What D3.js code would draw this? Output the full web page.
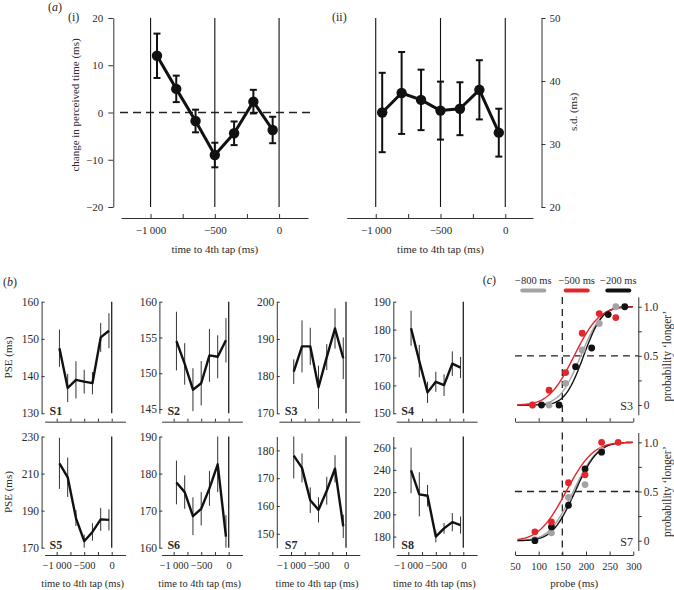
<!DOCTYPE html>
<html><head><meta charset="utf-8">
<script src="https://cdn.jsdelivr.net/npm/d3@7/dist/d3.min.js"></script>
<style>
body{margin:0;background:#fff;}
svg{display:block;}
</style></head><body>
<svg id="fig" width="674" height="590"></svg>
<script>
// ================= DATA =================
// panel (a)
const tapTimes = [-950, -800, -650, -500, -350, -200, -50];
const timeTicks = [-1000, -750, -500, -250, 0];
const timeTickLabels = {"-1000": "\u22121\u2009000", "-500": "\u2212500", "0": "0"};
const shiftMean = [12.0, 5.0, -1.8, -9.0, -4.4, 2.3, -3.7];
const shiftErr  = [4.7, 2.8, 2.4, 2.6, 2.5, 2.5, 2.8];
const shiftTicks = [-20, -10, 0, 10, 20];
const sdMean = [35.0, 38.1, 37.0, 35.3, 35.6, 38.6, 31.8];
const sdErr  = [6.3, 6.5, 4.8, 4.6, 4.2, 4.7, 3.8];
const sdTicks = [20, 30, 40, 50];

// panel (b)
const subjects = ["S1", "S2", "S3", "S4", "S5", "S6", "S7", "S8"];
const pseS1 = [147.5, 136.8, 139.0, 138.5, 138.1, 150.4, 152.2];
const errS1 = [5.0, 3.8, 5.0, 3.2, 3.0, 3.9, 4.7];
const pseS2 = [154.5, 151.3, 147.7, 148.6, 152.5, 152.3, 154.6];
const errS2 = [4.1, 2.9, 3.0, 3.1, 3.7, 3.0, 3.1];
const pseS3 = [181.2, 188.0, 188.0, 177.0, 185.1, 192.8, 184.8];
const errS3 = [3.3, 7.0, 5.0, 5.8, 3.5, 5.4, 5.6];
const pseS4 = [180.5, 168.7, 157.5, 161.3, 160.1, 167.8, 166.4];
const errS4 = [6.3, 5.8, 3.8, 3.6, 3.9, 4.4, 3.8];
const pseS5 = [215.5, 208.0, 186.0, 173.5, 178.5, 185.3, 185.0];
const errS5 = [13.8, 10.6, 4.3, 3.6, 4.7, 6.2, 5.7];
const pseS6 = [177.6, 175.0, 168.5, 170.5, 176.0, 182.5, 163.0];
const errS6 = [5.9, 4.5, 5.1, 4.5, 4.7, 7.5, 5.8];
const pseS7 = [178.1, 173.7, 162.1, 158.6, 165.5, 173.4, 152.7];
const errS7 = [8.2, 5.2, 4.6, 4.5, 5.0, 4.9, 4.2];
const pseS8 = [239.5, 218.0, 216.7, 180.0, 187.4, 193.0, 190.4];
const errS8 = [20.5, 19.8, 9.7, 5.2, 4.8, 8.2, 7.7];
const pseDomains = [[130, 160], [144.4, 160], [170, 200], [150, 190], [170, 230], [160, 190], [145, 185], [170, 270]];
const pseTicks = [[130, 140, 150, 160], [145, 150, 155, 160], [170, 180, 190, 200], [150, 160, 170, 180, 190],
                  [170, 190, 210, 230], [160, 170, 180, 190], [150, 160, 170, 180], [180, 200, 220, 240, 260]];

// panel (c)
const conditions = ["\u2212800 ms", "\u2212500 ms", "\u2212200 ms"];
const probeTicks = [50, 100, 150, 200, 250, 300];
const probTicks = [0, 0.25, 0.5, 0.75, 1];
const probTickLabels = {"0": "0", "0.5": "0.5", "1": "1.0"};
// S3
const s3ProbeGray  = [87, 122, 157, 192, 228, 263];
const s3PGray      = [0, 0, 0.22, 0.56, 0.83, 1.0];
const s3ProbeRed   = [87, 122, 157, 192, 228, 263];
const s3PRed       = [0, 0.15, 0.33, 0.73, 0.93, 0.89];
const s3ProbeBlack = [106, 143, 178, 212, 247, 282];
const s3PBlack     = [0, 0, 0.39, 0.58, 0.92, 1.0];
const s3FitMu    = [189, 175, 195];   // gray, red, black
const s3FitSigma = [35, 42, 31];
// S7
const s7ProbeGray  = [92, 127, 163, 198, 233];
const s7PGray      = [0.01, 0.08, 0.44, 0.57, 0.92];
const s7ProbeRed   = [92, 127, 163, 198, 233, 268];
const s7PRed       = [0.09, 0.19, 0.59, 0.67, 1.0, 1.0];
const s7ProbeBlack = [92, 127, 163, 198, 233];
const s7PBlack     = [0, 0.14, 0.36, 0.73, 0.90];
const s7FitMu    = [173, 158, 177];
const s7FitSigma = [40, 45, 38];

// ================= STYLE =================
const SERIF = "'Liberation Serif','Times New Roman',Times,serif";
const AX = "#333";
const TXT = "#2a2a2a";
const INK = "#111";
const condColors = ["#a3a3a3", "#e3262b", "#111111"];

const svg = d3.select("#fig");
const minus = v => v < 0 ? "\u2212" + Math.abs(v) : String(v);

function styleAxis(g, fs) {
  g.attr("font-family", SERIF).attr("font-size", fs);
  g.select(".domain").attr("stroke", AX).attr("stroke-width", 1);
  g.selectAll(".tick line").attr("stroke", AX).attr("stroke-width", 1);
  g.selectAll(".tick text").attr("fill", TXT);
}
function text(x, y, str, fs, opts = {}) {
  const t = svg.append("text").attr("x", x).attr("y", y)
    .attr("font-family", SERIF).attr("font-size", fs).attr("fill", TXT)
    .attr("text-anchor", opts.anchor || "start");
  if (opts.weight) t.attr("font-weight", opts.weight);
  if (opts.rotate) t.attr("transform", `rotate(${opts.rotate},${x},${y})`);
  t.text(str);
  return t;
}
function panelLetter(x, y, letter) {
  const t = svg.append("text").attr("x", x).attr("y", y)
    .attr("font-family", SERIF).attr("font-size", 12).attr("fill", TXT);
  t.append("tspan").text("(");
  t.append("tspan").attr("font-style", "italic").text(letter);
  t.append("tspan").text(")");
}

// ================= PANEL (a) =================
function panelA(opts) {
  const {x, y, mean, err, yTicks, axisX, side, dashed} = opts;
  const g = svg.append("g");
  [-1000, -500, 0].forEach(v => {
    g.append("line").attr("x1", x(v)).attr("x2", x(v))
      .attr("y1", y.range()[1]).attr("y2", y.range()[0])
      .attr("stroke", INK).attr("stroke-width", 1.1);
  });
  if (dashed) {
    g.append("line").attr("x1", 120).attr("x2", 310).attr("y1", y(0)).attr("y2", y(0))
      .attr("stroke", "#222").attr("stroke-width", 1.3).attr("stroke-dasharray", "8,5");
  }
  const gx = g.append("g").attr("transform", "translate(0,218)")
    .call(d3.axisBottom(x).tickValues(timeTicks).tickSizeInner(-4).tickSizeOuter(0)
      .tickPadding(8).tickFormat(d => timeTickLabels[d] || ""));
  styleAxis(gx, 11);
  const axis = side === "left" ? d3.axisLeft(y).tickPadding(5).tickSizeInner(5)
                               : d3.axisRight(y).tickPadding(4).tickSizeInner(4);
  const gy = g.append("g").attr("transform", `translate(${axisX},0)`)
    .call(axis.tickValues(yTicks).tickSizeOuter(0).tickFormat(minus));
  styleAxis(gy, 11);
  const pts = tapTimes.map((t, i) => ({t, m: mean[i], e: err[i]}));
  g.append("path").datum(pts)
    .attr("d", d3.line().x(d => x(d.t)).y(d => y(d.m)))
    .attr("fill", "none").attr("stroke", INK).attr("stroke-width", 3).attr("stroke-linejoin", "round");
  const eb = g.append("g").attr("stroke", INK).attr("stroke-width", 2);
  pts.forEach(d => {
    const cx = x(d.t);
    eb.append("line").attr("x1", cx).attr("x2", cx).attr("y1", y(d.m - d.e)).attr("y2", y(d.m + d.e));
    [d.m - d.e, d.m + d.e].forEach(v => eb.append("line")
      .attr("x1", cx - 3.5).attr("x2", cx + 3.5).attr("y1", y(v)).attr("y2", y(v)));
  });
  g.selectAll(null).data(pts).enter().append("circle")
    .attr("cx", d => x(d.t)).attr("cy", d => y(d.m)).attr("r", 5.2).attr("fill", INK);
  text(x(-500), 253, "time to 4th tap (ms)", 11, {anchor: "middle"});
}

const aX1 = d3.scaleLinear().domain([-1230, 225]).range([121, 308]);
const aY1 = d3.scaleLinear().domain([-20, 20]).range([207, 18]);
panelA({x: aX1, y: aY1, mean: shiftMean, err: shiftErr, yTicks: shiftTicks, axisX: 113.3, side: "left", dashed: true});
text(79, 105, "change in perceived time (ms)", 11, {anchor: "middle", rotate: -90});

const aX2 = d3.scaleLinear().domain([-1224, 214]).range([346.7, 533]);
const aY2 = d3.scaleLinear().domain([20, 50]).range([207, 18]);
panelA({x: aX2, y: aY2, mean: sdMean, err: sdErr, yTicks: sdTicks, axisX: 541.5, side: "right", dashed: false});
text(577, 112, "s.d. (ms)", 11, {anchor: "middle", rotate: -90});

panelLetter(48, 10.5, "a");
text(68, 21, "(i)", 12);
text(332, 21, "(ii)", 12);

// ================= PANEL (b) =================
const pseSeries = [pseS1, pseS2, pseS3, pseS4, pseS5, pseS6, pseS7, pseS8];
const errSeries = [errS1, errS2, errS3, errS4, errS5, errS6, errS7, errS8];
const bZeroX = [111.7, 228.7, 346, 463.3];
const bAxisX = [41.6, 159.4, 276.8, 393.3];
const bTop = [301.7, 436.5], bBottom = [413.3, 547.7], bXAxisY = [421.7, 555];

subjects.forEach((s, i) => {
  const col = i % 4, row = Math.floor(i / 4);
  const zx = bZeroX[col];
  const x = d3.scaleLinear().domain([-1220, 250]).range([zx - 67.1, zx + 13.75]);
  const dom = pseDomains[i];
  const y = d3.scaleLinear().domain(dom).range([bBottom[row], bTop[row]]);
  const g = svg.append("g");
  g.append("line").attr("x1", x(0)).attr("x2", x(0)).attr("y1", bTop[row]).attr("y2", bBottom[row])
    .attr("stroke", "#222").attr("stroke-width", 1.3);
  const gy = g.append("g").attr("transform", `translate(${bAxisX[col]},0)`)
    .call(d3.axisLeft(y).tickValues(pseTicks[i]).tickSizeInner(-3).tickSizeOuter(0).tickPadding(2.5));
  styleAxis(gy, 11.5);
  const gx = g.append("g").attr("transform", `translate(0,${bXAxisY[row]})`)
    .call(d3.axisBottom(x).tickValues(timeTicks).tickSizeInner(-3).tickSizeOuter(0).tickPadding(6.5)
      .tickFormat(d => row === 1 ? (timeTickLabels[d] || "") : ""));
  styleAxis(gx, 10.5);
  const vals = pseSeries[i], errs = errSeries[i];
  const eb = g.append("g").attr("stroke", "#333").attr("stroke-width", 1);
  tapTimes.forEach((t, k) => {
    const lo = Math.max(dom[0], vals[k] - errs[k]), hi = Math.min(dom[1], vals[k] + errs[k]);
    eb.append("line").attr("x1", x(t)).attr("x2", x(t)).attr("y1", y(lo)).attr("y2", y(hi));
  });
  g.append("path").datum(tapTimes.map((t, k) => [t, vals[k]]))
    .attr("d", d3.line().x(d => x(d[0])).y(d => y(d[1])))
    .attr("fill", "none").attr("stroke", INK).attr("stroke-width", 2.4).attr("stroke-linejoin", "round");
  text(bAxisX[col] + 8, bBottom[row] + 1.5, s, 12, {weight: "bold"});
  if (col === 0) text(12, (bTop[row] + bBottom[row]) / 2, "PSE (ms)", 11, {anchor: "middle", rotate: -90});
  if (row === 1) text(zx - 29, 587, "time to 4th tap (ms)", 10.5, {anchor: "middle"});
});
panelLetter(3, 286, "b");

// ================= PANEL (c) =================
function normCdf(z) {
  const t = 1 / (1 + 0.3275911 * Math.abs(z) / Math.SQRT2);
  const y = 1 - (((((1.061405429 * t - 1.453152027) * t) + 1.421413741) * t - 0.284496736) * t + 0.254829592) * t * Math.exp(-z * z / 2);
  return z >= 0 ? 0.5 * (1 + y) : 0.5 * (1 - y);
}
const cX = d3.scaleLinear().domain([50, 300]).range([515, 633.3]);
const cAxisX = 638.3;
function panelC(opts) {
  const {y, xAxisY, probes, probs, mu, sigma, label, showX} = opts;
  const g = svg.append("g");
  g.append("line").attr("x1", cX(150)).attr("x2", cX(150)).attr("y1", y(1.1)).attr("y2", xAxisY)
    .attr("stroke", "#222").attr("stroke-width", 1.3).attr("stroke-dasharray", "7,5");
  g.append("line").attr("x1", 515).attr("x2", cAxisX).attr("y1", y(0.5)).attr("y2", y(0.5))
    .attr("stroke", "#222").attr("stroke-width", 1.3).attr("stroke-dasharray", "7,5");
  const gy = g.append("g").attr("transform", `translate(${cAxisX},0)`)
    .call(d3.axisRight(y).tickValues(probTicks).tickSizeInner(3.5).tickSizeOuter(0).tickPadding(2)
      .tickFormat(d => probTickLabels[d] || ""));
  styleAxis(gy, 11.5);
  const gx = g.append("g").attr("transform", `translate(0,${xAxisY})`)
    .call(d3.axisBottom(cX).tickValues(probeTicks).tickSizeInner(-3.5).tickSizeOuter(0).tickPadding(8)
      .tickFormat(d => showX ? d : ""));
  styleAxis(gx, 10.5);
  [0, 2, 1].forEach(c => {
    const curve = d3.range(55, 300.1, 2).map(p => [p, normCdf((p - mu[c]) / sigma[c])]);
    g.append("path").datum(curve)
      .attr("d", d3.line().x(d => cX(d[0])).y(d => y(d[1])))
      .attr("fill", "none").attr("stroke", condColors[c]).attr("stroke-width", 1.4);
  });
  [0, 2, 1].forEach(c => {
    g.selectAll(null).data(probes[c].map((p, k) => [p, probs[c][k]])).enter().append("circle")
      .attr("cx", d => cX(d[0])).attr("cy", d => y(d[1])).attr("r", 3.4).attr("fill", condColors[c]);
  });
  text(633, y(0) + 5, label, 12, {anchor: "end"});
}
panelC({y: d3.scaleLinear().domain([-0.1, 1.1]).range([414.8, 296.9]), xAxisY: 421.7,
  probes: [s3ProbeGray, s3ProbeRed, s3ProbeBlack], probs: [s3PGray, s3PRed, s3PBlack],
  mu: s3FitMu, sigma: s3FitSigma, label: "S3", showX: false});
const cY7 = d3.scaleLinear().domain([-0.1, 1.1]).range([550.5, 432.5]);
panelC({y: cY7, xAxisY: 555,
  probes: [s7ProbeGray, s7ProbeRed, s7ProbeBlack], probs: [s7PGray, s7PRed, s7PBlack],
  mu: s7FitMu, sigma: s7FitSigma, label: "S7", showX: true});
text(574.3, 587, "probe (ms)", 11, {anchor: "middle"});
text(670.5, 356, "probability \u2018longer\u2019", 11.5, {anchor: "middle", rotate: -90});
text(670.5, 491.5, "probability \u2018longer\u2019", 11.5, {anchor: "middle", rotate: -90});

// legend
panelLetter(482.7, 284, "c");
const legendCx = [533.3, 576.7, 618.3];
conditions.forEach((c, i) => {
  text(legendCx[i], 284, c, 10.5, {anchor: "middle"});
  svg.append("line").attr("x1", legendCx[i] - 11).attr("x2", legendCx[i] + 11)
    .attr("y1", 290.5).attr("y2", 290.5).attr("stroke", condColors[i]).attr("stroke-width", 4)
    .attr("stroke-linecap", "round");
});
</script>
</body></html>
